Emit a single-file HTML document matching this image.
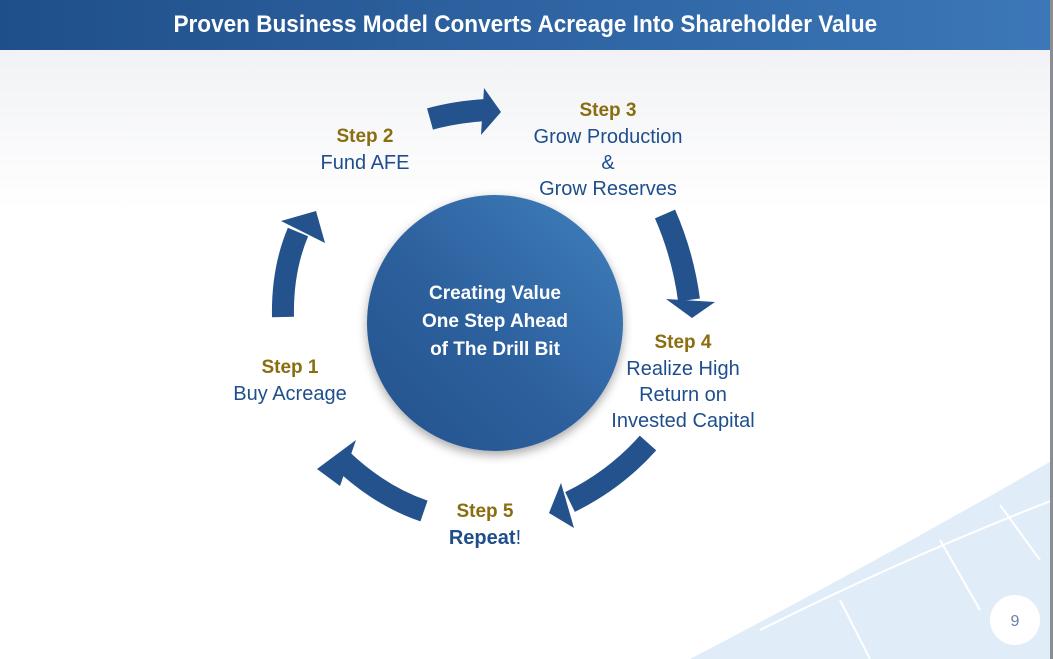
<!DOCTYPE html>
<html><head><meta charset="utf-8"><style>
body{margin:0;width:1053px;height:659px;overflow:hidden;font-family:"Liberation Sans",sans-serif;background:#fff;position:relative}
.hdr{position:absolute;left:0;top:0;width:1050px;height:50px;background:linear-gradient(90deg,#1f4f8a,#3c77b8);color:#fff;font-weight:bold;font-size:24px;text-align:center;line-height:50px}
.hdr span{display:inline-block;transform:scaleX(0.94)}
.bg{position:absolute;left:0;top:50px;width:1050px;height:160px;background:linear-gradient(#f1f2f5,#fff)}
.edge{position:absolute;right:0;top:0;width:3px;height:659px;background:#8a8d92}
.t{position:absolute;text-align:center;font-size:20px;color:#1f4e8c;line-height:26px;white-space:nowrap}
.t b{color:#8a6d0f;font-size:19px}
.c{position:absolute;left:367px;top:195px;width:256px;height:256px;border-radius:50%;background:linear-gradient(225deg,#4080bd,#2c609d 55%,#23528c);box-shadow:0 4px 10px rgba(0,0,0,.35);color:#fff;font-weight:bold;font-size:19px;line-height:28px;text-align:center}
</style></head><body>
<div class="bg"></div>
<svg style="position:absolute;left:0;top:0" width="1053" height="659">
<path d="M690 659 Q880 560 1053 460 L1053 659 Z" fill="#e0edf9"/>
<path d="M760 630 Q900 560 1053 500" stroke="#fff" stroke-width="2" fill="none"/>
<path d="M840 600 L870 659 M940 540 L980 610 M1000 505 L1040 560" stroke="#fff" stroke-width="2" fill="none"/>
<g fill="none" stroke="#23528c" stroke-width="22">
<path d="M430 119 Q455 112 486 110"/>
<path d="M283 317 Q282 270 298 232"/>
<path d="M665 214 Q683 255 689 300"/>
<path d="M424 511 Q380 496 342 460"/>
<path d="M648 443 Q615 480 570 502"/>
</g>
<g fill="#23528c">
<polygon points="484,88 501,112 481,135"/>
<polygon points="281,221 316,211 325,243"/>
<polygon points="666,299 715,302 692,318"/>
<polygon points="317,469 356,440 340,486"/>
<polygon points="549,513 561,483 574,528"/>
</g>
<circle cx="1015" cy="620" r="25" fill="#fff"/>
<text x="1015" y="626" font-size="16" fill="#6a7fa8" text-anchor="middle" font-family="Liberation Sans">9</text>
</svg>
<div class="hdr"><span>Proven Business Model Converts Acreage Into Shareholder Value</span></div>
<div class="edge"></div>
<div class="c"><div style="margin-top:85px">Creating Value<br>One Step Ahead<br>of The Drill Bit</div></div>
<div class="t" style="left:290px;width:150px;top:123px"><b>Step 2</b><br>Fund AFE</div>
<div class="t" style="left:508px;width:200px;top:97px"><b>Step 3</b><br>Grow Production<br>&amp;<br>Grow Reserves</div>
<div class="t" style="left:583px;width:200px;top:329px"><b>Step 4</b><br>Realize High<br>Return on<br>Invested Capital</div>
<div class="t" style="left:210px;width:160px;top:354px"><b>Step 1</b><br>Buy Acreage</div>
<div class="t" style="left:410px;width:150px;top:498px"><b>Step 5</b><br><span style="font-weight:bold">Repeat</span>!</div>
</body></html>
